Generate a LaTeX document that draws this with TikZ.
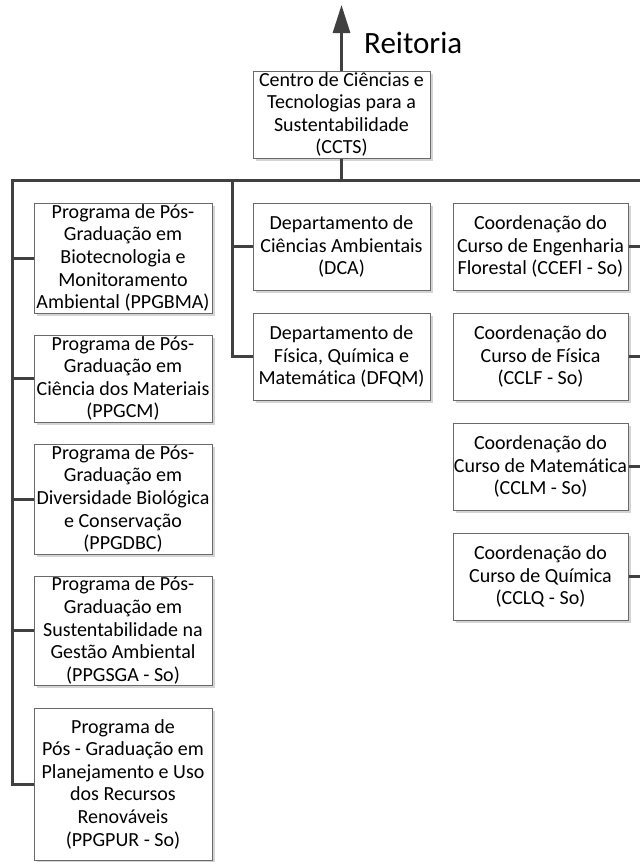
\documentclass[tikz,border=0pt]{standalone}
\usepackage{fontspec}
\setmainfont{Carlito}[Ligatures=NoCommon]
\usetikzlibrary{arrows.meta,shadows}
\definecolor{connc}{HTML}{404040}
\definecolor{boxc}{HTML}{6A6A6A}
\definecolor{shadc}{HTML}{D4D4D4}
\begin{document}
\begin{tikzpicture}[x=1pt,y=-1pt,
  orgbox/.style={draw=boxc, line width=1pt, fill=white, inner sep=0pt,
    align=center, font=\fontsize{20}{22.6}\selectfont,
    drop shadow={shadow xshift=3pt, shadow yshift=-3pt, fill=shadc, opacity=1}},
  conn/.style={draw=connc, line width=3pt, line join=miter}]
\useasboundingbox (0,0) rectangle (640,862);
\fill[white] (0,0) rectangle (640,862);
% top
\node[orgbox, minimum width=177pt, minimum height=87pt] (ccts) at (341.5,114.5)
  {Centro de Ciências e\\Tecnologias para a\\Sustentabilidade\\(CCTS)};
\coordinate (top) at (341.5,5);
\draw[conn, -{Triangle[length=28pt,width=17pt]}] (ccts.north) -- (top);
\node[anchor=base west, inner sep=0pt, font=\fontsize{31}{37}\selectfont] (reit) at (364,53) {Reitoria};
% bus
\coordinate (busL) at (12,180);
\coordinate (busM) at (232,180);
\coordinate (busR) at (640,180);
% left column
\node[orgbox, minimum width=178pt, minimum height=110pt] (b1) at (123,258)
  {Programa de Pós-\\Graduação em\\Biotecnologia e\\Monitoramento\\Ambiental (PPGBMA)};
\node[orgbox, minimum width=178pt, minimum height=87pt] (b2) at (123,378.5)
  {Programa de Pós-\\Graduação em\\Ciência dos Materiais\\(PPGCM)};
\node[orgbox, minimum width=178pt, minimum height=110pt] (b3) at (123,499)
  {Programa de Pós-\\Graduação em\\Diversidade Biológica\\e Conservação\\(PPGDBC)};
\node[orgbox, minimum width=178pt, minimum height=109pt] (b4) at (123,630.5)
  {Programa de Pós-\\Graduação em\\Sustentabilidade na\\Gestão Ambiental\\(PPGSGA - So)};
\node[orgbox, minimum width=178pt, minimum height=152pt] (b5) at (123,784)
  {Programa de\\Pós - Graduação em\\Planejamento e Uso\\dos Recursos\\Renováveis\\(PPGPUR - So)};
% middle column
\node[orgbox, minimum width=177pt, minimum height=87pt] (dca) at (341.5,246.5)
  {Departamento de\\Ciências Ambientais\\(DCA)};
\node[orgbox, minimum width=177pt, minimum height=87pt] (dfqm) at (341.5,356.5)
  {Departamento de\\Física, Química e\\Matemática (DFQM)};
% right column
\node[orgbox, minimum width=175pt, minimum height=87pt] (ccef) at (540.5,246.5)
  {Coordenação do\\Curso de Engenharia\\Florestal (CCEFl - So)};
\node[orgbox, minimum width=175pt, minimum height=87pt] (cclf) at (540.5,356.5)
  {Coordenação do\\Curso de Física\\(CCLF - So)};
\node[orgbox, minimum width=175pt, minimum height=87pt] (cclm) at (540.5,466.5)
  {Coordenação do\\Curso de Matemática\\(CCLM - So)};
\node[orgbox, minimum width=175pt, minimum height=87pt] (cclq) at (540.5,576.5)
  {Coordenação do\\Curso de Química\\(CCLQ - So)};
% connectors
\draw[conn] (ccts.south) -- (ccts.south |- busL);
\draw[conn] (b5.west) -| (busL) -- (busR);
\foreach \n in {b1,b2,b3,b4} \draw[conn] (\n.west) -- (\n.west -| busL);
\draw[conn] (dfqm.west) -| (busM);
\draw[conn] (dca.west) -- (dca.west -| busM);
\foreach \n in {ccef,cclf,cclm,cclq} \draw[conn] (\n.east) -- (\n.east -| busR);
\end{tikzpicture}
\end{document}
